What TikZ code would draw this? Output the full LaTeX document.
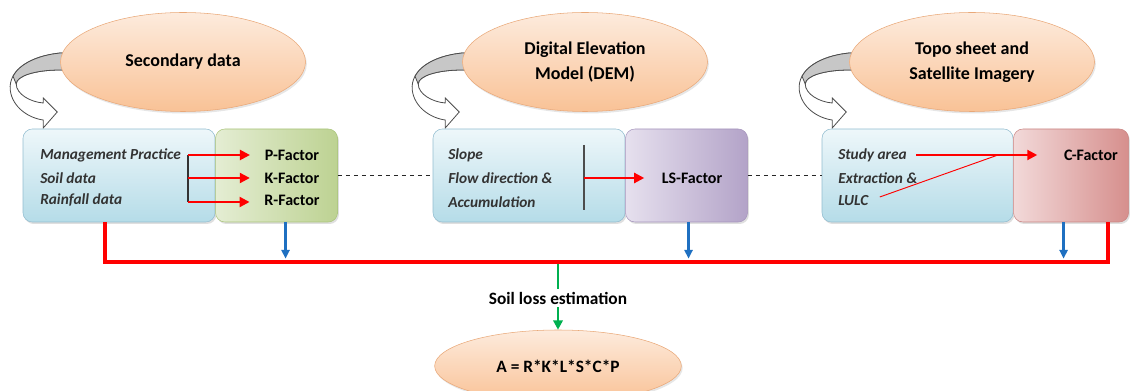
\documentclass[tikz,border=0pt]{standalone}
\usepackage{fontspec}
\setmainfont{Carlito}
\usepackage{xcolor}
\usepackage{tikz}
\usetikzlibrary{arrows.meta,positioning,shapes.geometric,shadows,backgrounds}

\definecolor{peachA}{HTML}{FDEBDD}
\definecolor{peachB}{HTML}{F9C296}
\definecolor{peachline}{HTML}{E9A878}
\definecolor{blueA}{HTML}{EEF7FA}
\definecolor{blueB}{HTML}{B5DCE8}
\definecolor{blueline}{HTML}{93BDD0}
\definecolor{greenA}{HTML}{E4EDD3}
\definecolor{greenB}{HTML}{BDD292}
\definecolor{greenline}{HTML}{A9C47A}
\definecolor{purpleA}{HTML}{E6E0EE}
\definecolor{purpleB}{HTML}{B3A3C8}
\definecolor{purpleline}{HTML}{A594BC}
\definecolor{roseA}{HTML}{F2D9D9}
\definecolor{roseB}{HTML}{D68F8D}
\definecolor{roseline}{HTML}{C98482}
\definecolor{arrowblue}{HTML}{1F70C1}
\definecolor{arrowgreen}{HTML}{00B050}

\begin{document}
\begin{tikzpicture}[
    x=0.75pt, y=-0.75pt,
    source/.style={ellipse, draw=peachline, top color=peachA, bottom color=peachB, minimum width=183.75pt, minimum height=74.25pt, align=center, inner sep=0pt, font=\bfseries\fontsize{13.5}{19}\selectfont, drop shadow={opacity=0.2, shadow xshift=1pt, shadow yshift=-1.5pt}},
    inbox/.style={draw=blueline, rounded corners=7pt, top color=blueA, bottom color=blueB, minimum width=144pt, minimum height=69.75pt, drop shadow={opacity=0.25, shadow xshift=1pt, shadow yshift=-1.5pt}},
    facbox/.style={draw=#1line, rounded corners=7pt, left color=#1A, right color=#1B, minimum height=69.75pt, drop shadow={opacity=0.25, shadow xshift=1pt, shadow yshift=-1.5pt}},
    note/.style={anchor=west, inner sep=0pt, text=black!80, font=\bfseries\itshape\fontsize{11.5}{14}\selectfont},
    factor/.style={inner sep=2pt, font=\bfseries\fontsize{12}{14}\selectfont},
    redarr/.style={-{Triangle[length=7.5pt,width=7.5pt]}, red, line width=1.6pt},
    bus/.style={red, line width=3.2pt},
    down/.style={-{Triangle[length=6.5pt,width=6pt]}, arrowblue, line width=2pt},
    curl/.pic={
        \draw[fill=white, draw=black!70, line width=0.6pt] (4,-9) -- (0,-9) .. controls (-30,-6) and (-52,8) .. (-50,28) .. controls (-48,45) and (-32,56) .. (-17,58) -- (-17,66) -- (-3,50) -- (-17,36) -- (-17,41) .. controls (-30,40) and (-44,32) .. (-44,22) .. controls (-44,14) and (-25,8) .. (0,8) -- (4,8);
        \draw[fill=black!22, draw=black!70, line width=0.6pt] (4,-9) -- (0,-9) .. controls (-22.5,-6.75) and (-40.5,1.7) .. (-47.25,14.2) -- (-44,22) .. controls (-44,14) and (-25,8) .. (0,8) -- (4,8) -- cycle;
    }
]
    \useasboundingbox (0,0) rectangle (1130,391);
    \clip (0,0) rectangle (1130,391);

    % data sources
    \node[source] (sec) at (183,62) {Secondary data};
    \node[source] (dem) at (585,62) {Digital Elevation\\Model (DEM)};
    \node[source] (topo) at (972,62) {Topo sheet and\\Satellite Imagery};
    \begin{scope}[on background layer]
        \pic at (sec.west) {curl};
        \pic at (dem.west) {curl};
        \pic at (topo.west) {curl};
    \end{scope}

    % input boxes and factor boxes
    \node[inbox] (inA) at (119,175.5) {};
    \node[facbox=green, minimum width=91.5pt, right=0pt of inA] (facA) {};
    \node[inbox] (inB) at (529,175.5) {};
    \node[facbox=purple, minimum width=91.5pt, right=0pt of inB] (facB) {};
    \node[inbox, minimum width=143.25pt] (inC) at (917.5,175.5) {};
    \node[facbox=rose, minimum width=86.25pt, right=0pt of inC] (facC) {};

    \node[note] (mgmt) at (40,155) {Management Practice};
    \node[note] (soil) at (40,178) {Soil data};
    \node[note] (rain) at (40,200) {Rainfall data};
    \node[factor] (pf) at (292,155) {P-Factor};
    \node[factor] (kf) at (292,178) {K-Factor};
    \node[factor] (rf) at (292,200) {R-Factor};

    \node[note] (slope) at (448,155) {Slope};
    \node[note] (flow) at (448,178) {Flow direction \&};
    \node[note] (accu) at (448,202) {Accumulation};
    \node[factor] (lsf) at (692,178) {LS-Factor};

    \node[note] (study) at (838,155) {Study area};
    \node[note] (extr) at (838,178) {Extraction \&};
    \node[note] (lulc) at (838,201) {LULC};
    \node[factor] (cf) at (1091,155) {C-Factor};

    % red links inside the boxes
    \coordinate (barA) at (188,155);
    \coordinate (barAend) at (188,202);
    \draw[black!80, line width=0.8pt] (barA) -- (barAend);
    \draw[redarr, shorten >=9pt] (barA) -- (pf.west);
    \draw[redarr, shorten >=9pt] (barA |- kf) -- (kf.west);
    \draw[redarr, shorten >=9pt] (barAend) -- (barAend -| rf.west);

    \coordinate (barB) at (584,145);
    \coordinate (barBend) at (584,210);
    \draw[black!70, line width=0.8pt] (barB) -- (barBend);
    \draw[redarr, shorten >=11pt] (barB |- lsf) -- (lsf.west);

    \coordinate (join) at (998,155);
    \draw[redarr, shorten <=7pt, shorten >=18pt] (study.east) -- (cf.west);
    \draw[red, line width=0.7pt, shorten <=9pt] (lulc.east) -- (join);

    % links between the groups
    \draw[dashed, black!85, line width=0.6pt] (facA.east) -- (inB.west);
    \draw[dashed, black!85, line width=0.6pt] (facB.east) -- (inC.west);

    % collecting line
    \coordinate (busL) at (105,262);
    \coordinate (busR) at (1108,262);
    \draw[bus] (inA.south -| busL) -- (busL) -- (busR) -- (busR |- facC.south);
    \draw[down, shorten >=2.5pt] ([xshift=6.75pt]facA.south) -- ([xshift=6.75pt]facA.south |- busL);
    \draw[down, shorten >=2.5pt] ([xshift=1.5pt]facB.south) -- ([xshift=1.5pt]facB.south |- busL);
    \draw[down, shorten >=2.5pt] ([xshift=-5.6pt]facC.south) -- ([xshift=-5.6pt]facC.south |- busL);

    % result
    \coordinate (mid) at (558,264);
    \node[factor, font=\bfseries\fontsize{13}{15}\selectfont] (loss) at (558,298) {Soil loss estimation};
    \node[source, minimum width=185pt, minimum height=54pt, font=\bfseries\fontsize{13}{15}\selectfont] (eq) at (558,366) {A = R*K*L*S*C*P};
    \draw[arrowgreen, line width=2pt] (mid) -- (loss.north);
    \draw[-{Triangle[length=7pt,width=7pt]}, arrowgreen, line width=2pt] (loss.south) -- (eq.north);
\end{tikzpicture}
\end{document}
